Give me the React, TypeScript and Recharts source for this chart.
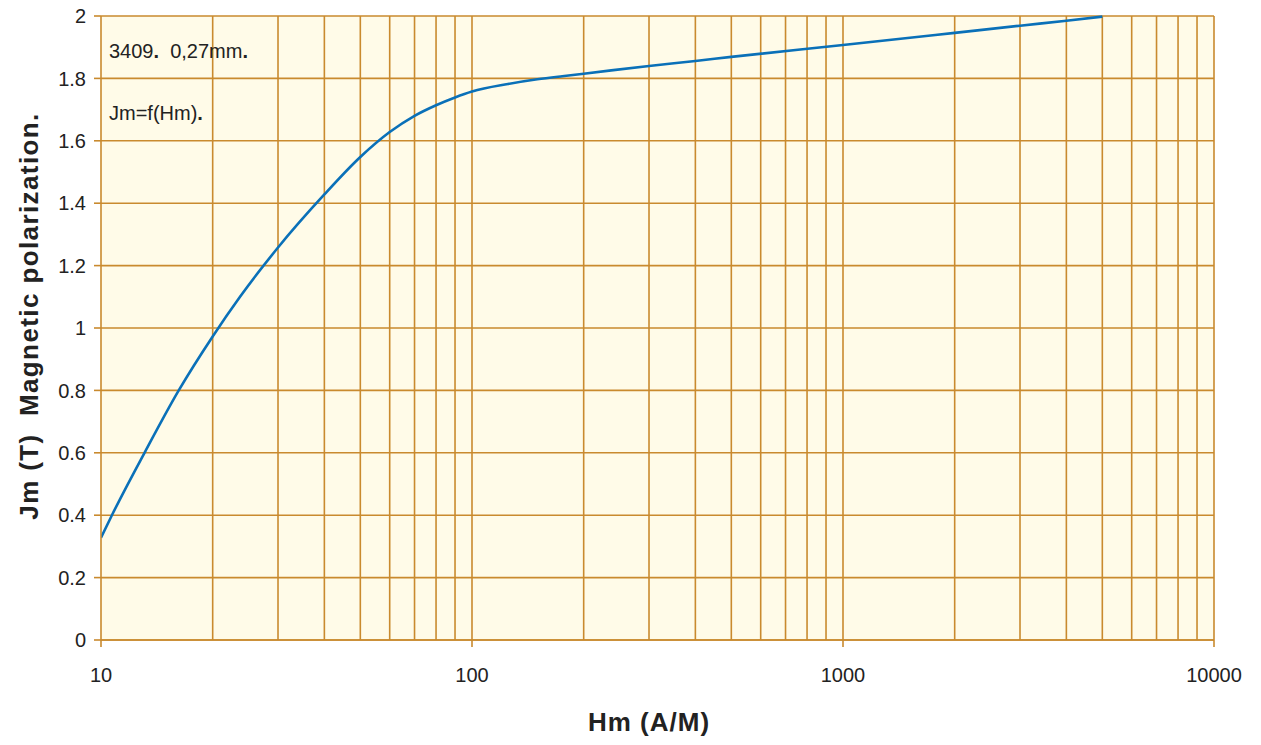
import * as React from 'react'
import { LineChart, Line, XAxis, YAxis, ReferenceLine, ReferenceArea } from 'recharts'

// values
const hmValues = [10, 10.7, 13.1, 16.2, 20, 23.7, 30, 40, 50, 60, 70, 80, 90, 100, 125, 150, 175, 200, 300, 400, 500, 1000, 2000, 3000, 4000, 5000]
const jmValues = [0.328, 0.4, 0.6, 0.8, 0.973, 1.1, 1.258, 1.428, 1.548, 1.628, 1.68, 1.714, 1.739, 1.758, 1.782, 1.797, 1.807, 1.815, 1.84, 1.856, 1.869, 1.907, 1.946, 1.969, 1.985, 1.998]

const xTicks = [10, 100, 1000, 10000]
const yTicks = [0, 0.2, 0.4, 0.6, 0.8, 1, 1.2, 1.4, 1.6, 1.8, 2]
const xGrid = [20, 30, 40, 50, 60, 70, 80, 90, 100, 200, 300, 400, 500, 600, 700, 800, 900, 1000,
  2000, 3000, 4000, 5000, 6000, 7000, 8000, 9000, 10000]

const data = hmValues.map((hm, i) => ({ hm, jm: jmValues[i] }))

const GRID = '#c98a2e'
const FONT = '"Liberation Sans", Arial, sans-serif'

const YLabel = () => (
  <text
    x={29}
    y={316}
    transform="rotate(-90 29 316)"
    textAnchor="middle"
    dominantBaseline="central"
    fontFamily={FONT}
    fontWeight="bold"
    fontSize={26}
    letterSpacing={1.4}
    fill="#222"
    style={{ whiteSpace: 'pre' }}
  >
    Jm (T)  Magnetic polarization.
  </text>
)

const XLabel = () => (
  <text
    x={649}
    y={722}
    textAnchor="middle"
    dominantBaseline="central"
    fontFamily={FONT}
    fontWeight="bold"
    fontSize={26}
    letterSpacing={1}
    fill="#222"
  >
    Hm (A/M)
  </text>
)

const noteStyle: React.CSSProperties = {
  position: 'absolute',
  left: 109,
  fontFamily: FONT,
  fontSize: 20,
  lineHeight: '24px',
  color: '#222',
  whiteSpace: 'pre',
}

export default function App() {
  return (
    <div style={{ position: 'relative', width: 1261, height: 745, margin: -8 }}>
      <LineChart
        width={1261}
        height={745}
        data={data}
        margin={{ top: 16, right: 47, bottom: 58, left: 8 }}
      >
        <ReferenceArea x1={10} x2={10000} y1={0} y2={2} fill="#fffbe8" fillOpacity={1} stroke="none" />
        {yTicks.map(v => (
          <ReferenceLine key={'h' + v} y={v} stroke={GRID} strokeWidth={1.6} />
        ))}
        {xGrid.map(v => (
          <ReferenceLine key={'v' + v} x={v} stroke={GRID} strokeWidth={1.6} />
        ))}
        <XAxis
          dataKey="hm"
          type="number"
          scale="log"
          domain={[10, 10000]}
          ticks={xTicks}
          allowDataOverflow
          height={47}
          stroke={GRID}
          strokeWidth={1.6}
          tickSize={7}
          tickMargin={21}
          tick={{ fill: '#222', fontSize: 20, fontFamily: FONT }}
          label={<XLabel />}
        />
        <YAxis
          type="number"
          domain={[0, 2]}
          ticks={yTicks}
          width={93}
          stroke={GRID}
          strokeWidth={1.6}
          tickSize={7}
          tickMargin={8}
          tick={{ fill: '#222', fontSize: 20, fontFamily: FONT }}
          label={<YLabel />}
        />
        <Line
          dataKey="jm"
          type="monotone"
          stroke="#0a70b8"
          strokeWidth={2.6}
          dot={false}
          isAnimationActive={false}
        />
      </LineChart>
      <div style={{ ...noteStyle, top: 39 }}>3409<b>.</b>  0,27mm<b>.</b></div>
      <div style={{ ...noteStyle, top: 101 }}>Jm=f(Hm)<b>.</b></div>
    </div>
  )
}
